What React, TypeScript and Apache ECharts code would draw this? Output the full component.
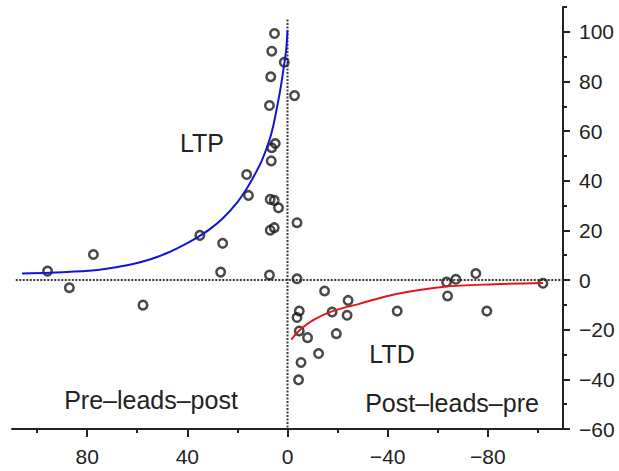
import React, { useEffect, useRef } from "react";
import * as echarts from "echarts";

// Spike-timing interval (ms, axis reversed) and change in EPSC (%) for each cell
const pointsX = [5.2, 6.3, 1.3, 6.7, -2.8, 7.2, 4.9, 6.3, 6.5, 16.3, 15.6, 6.9, 5.3, 3.6, -3.8, 5.3, 6.9, 35.0, 25.9, 26.7, 7.2, -3.8, 95.8, 77.5, 87.1, 57.7, -14.8, -4.7, -3.8, -17.8, -24.2, -23.8, -4.7, -8.0, -19.5, -12.4, -5.4, -4.4, -43.8, -63.5, -67.2, -63.9, -75.2, -79.6, -102.0];
const pointsY = [99.3, 92.2, 87.7, 81.9, 74.3, 70.3, 55.0, 53.3, 48.0, 42.5, 34.1, 32.5, 32.1, 29.1, 23.1, 21.1, 20.1, 18.0, 14.8, 3.2, 2.0, 0.5, 3.6, 10.3, -3.1, -10.1, -4.4, -12.5, -15.1, -12.9, -8.2, -14.2, -20.5, -23.2, -21.6, -29.6, -33.2, -40.2, -12.5, -0.8, 0.3, -6.4, 2.6, -12.5, -1.3];

// Fitted LTP curve
const ltpCurveX = [0, 0.5, 1.3, 2.9, 4.5, 5.6, 7.2, 10.3, 13.6, 16.3, 20.3, 25.7, 31, 36.3, 41.7, 48.3, 55, 61.7, 68.4, 75, 85, 95, 106];
const ltpCurveY = [100.5, 93, 87, 76.5, 68, 62.5, 56.5, 48, 41.5, 36.8, 31, 25, 20.5, 17, 14, 10.8, 8.3, 6.5, 5.2, 4.2, 3.4, 2.9, 2.6];

// Fitted LTD curve
const ltdCurveX = [-1.5, -5, -10.4, -18, -29, -42.5, -62.5, -82.6, -102];
const ltdCurveY = [-24, -20, -16, -12.5, -9.5, -5.8, -2.7, -1.7, -1.2];

// Axis ticks
const xLabelValues = [80, 40, 0, -40, -80];
const xMinorTicks = [100, 60, 20, -20, -60, -100];
const yLabelValues = [-60, -40, -20, 0, 20, 40, 60, 80, 100];
const yMinorTicks = [-50, -30, -10, 10, 30, 50, 70, 90, 110];

const AX = "#222";
const fmt = (v: number) => (v < 0 ? "\u2212" + Math.abs(v) : String(v));

export default function App() {
  const ref = useRef<HTMLDivElement>(null);
  useEffect(() => {
    if (!ref.current) return;
    const chart = echarts.init(ref.current, null, { renderer: "svg" });
    const font = "'Liberation Sans', Arial, Helvetica, sans-serif";
    const baseX = {
      type: "value",
      min: -110,
      max: 110,
      inverse: true,
      position: "bottom",
      splitLine: { show: false },
    };
    const baseY = {
      type: "value",
      min: -60,
      max: 110,
      position: "right",
      splitLine: { show: false },
    };
    const txt = (text: string, x: number, y: number) => ({
      type: "text",
      x,
      y,
      style: { text, fontSize: 25, fontFamily: font, fill: "#222", textAlign: "center", textVerticalAlign: "middle" },
    });
    chart.setOption({
      animation: false,
      grid: { left: 12, right: 56, top: 7, bottom: 42 },
      xAxis: [
        {
          ...baseX,
          axisLine: { show: true, onZero: false, lineStyle: { color: AX, width: 2 } },
          axisTick: { show: true, customValues: xLabelValues, length: 8, lineStyle: { color: AX, width: 2 } },
          axisLabel: {
            show: true,
            customValues: xLabelValues,
            margin: 17,
            color: AX,
            fontSize: 21,
            fontFamily: font,
            formatter: fmt,
          },
        },
        {
          ...baseX,
          axisLine: { show: false, onZero: false },
          axisTick: { show: true, customValues: xMinorTicks, length: 4, lineStyle: { color: AX, width: 2 } },
          axisLabel: { show: false },
        },
      ],
      yAxis: [
        {
          ...baseY,
          axisLine: { show: true, onZero: false, lineStyle: { color: AX, width: 2 } },
          axisTick: { show: true, customValues: yLabelValues, length: 7, lineStyle: { color: AX, width: 2 } },
          axisLabel: {
            show: true,
            customValues: yLabelValues,
            margin: 16,
            color: AX,
            fontSize: 21,
            fontFamily: font,
            formatter: fmt,
          },
        },
        {
          ...baseY,
          axisLine: { show: false, onZero: false },
          axisTick: { show: true, customValues: yMinorTicks, length: 4, lineStyle: { color: AX, width: 2 } },
          axisLabel: { show: false },
        },
      ],
      graphic: [
        txt("LTP", 202, 143),
        txt("LTD", 392, 354),
        txt("Pre–leads–post", 151, 400),
        txt("Post–leads–pre", 452, 403),
      ],
      series: [
        {
          type: "line",
          data: [[0, 105], [0, -60]],
          symbol: "none",
          lineStyle: { color: "#3a3a3a", width: 2, type: [2, 1.5] },
          z: 1,
        },
        {
          type: "line",
          data: [[108.5, 0], [-110, 0]],
          symbol: "none",
          lineStyle: { color: "#3a3a3a", width: 2, type: [2, 1.5] },
          z: 1,
        },
        {
          type: "line",
          data: ltpCurveX.map((x, i) => [x, ltpCurveY[i]]),
          symbol: "none",
          smooth: 0.3,
          lineStyle: { color: "#1414d8", width: 2 },
          z: 3,
        },
        {
          type: "line",
          data: ltdCurveX.map((x, i) => [x, ltdCurveY[i]]),
          symbol: "none",
          smooth: 0.3,
          lineStyle: { color: "#e3141c", width: 2 },
          z: 3,
        },
        {
          type: "scatter",
          data: pointsX.map((x, i) => [x, pointsY[i]]),
          symbol: "circle",
          symbolSize: 8.5,
          itemStyle: { color: "rgba(0,0,0,0)", borderColor: "#1a1a1a", borderWidth: 2.5 },
          z: 2,
        },
      ],
    });
    return () => chart.dispose();
  }, []);
  return <div ref={ref} style={{ position: "absolute", left: 0, top: 0, width: 619, height: 471 }} />;
}
